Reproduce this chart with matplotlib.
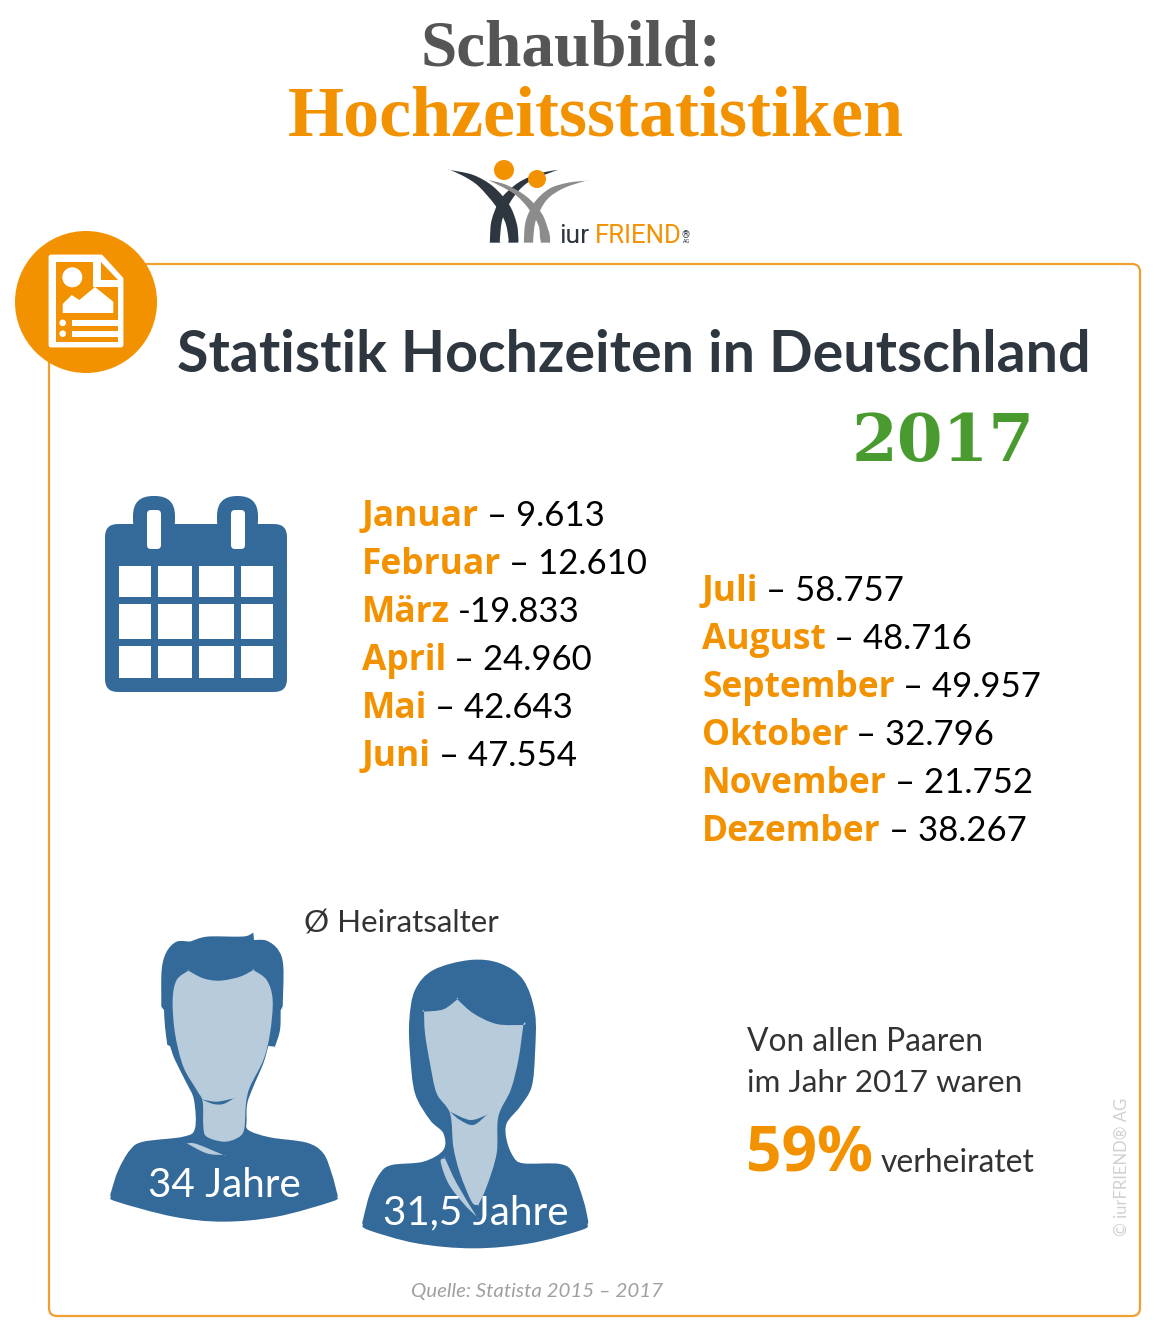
import numpy as np
import matplotlib
matplotlib.use("Agg")
import matplotlib.pyplot as plt
from matplotlib.path import Path
from matplotlib.patches import PathPatch, Circle, FancyBboxPatch, Polygon

# colours
ORANGE = "#F39200"
BLUE = "#336A9A"
LIGHT = "#B7CBDB"
DARK = "#2E3640"
GREY = "#8C8C8C"

# data
months_left = ["Januar", "Februar", "März", "April", "Mai", "Juni"]
values_left = ["– 9.613", "– 12.610", "-19.833", "– 24.960", "– 42.643", "– 47.554"]
months_right = ["Juli", "August", "September", "Oktober", "November", "Dezember"]
values_right = ["– 58.757", "– 48.716", "– 49.957", "– 32.796", "– 21.752", "– 38.267"]
age_labels = ["34 Jahre", "31,5 Jahre"]
share_married = "59%"

fig = plt.figure(figsize=(11.57, 13.33), dpi=100)
ax = fig.add_axes([0, 0, 1, 1])
ax.set_xlim(0, 1157)
ax.set_ylim(1333, 0)
ax.axis("off")
renderer = fig.canvas.get_renderer()


def put(x, y, s, right=None, size=27, color="black", family="Lato", **kw):
    # text on a baseline, size given in points; right = wanted right edge in px
    t = ax.text(x, y, s, fontsize=size, color=color, family=family, va="baseline", **kw)
    if right is not None:
        w = t.get_window_extent(renderer).width
        t.set_fontsize(size * (right - x) / w)
    return t


def blob(points, color, z=2):
    # smooth closed shape through the points (catmull-rom to bezier)
    # a point listed twice gives a sharp corner
    p = np.array(points, dtype=float)
    n = len(p)
    verts = [p[0]]
    codes = [Path.MOVETO]
    for i in range(n):
        p0, p1, p2, p3 = p[i - 1], p[i], p[(i + 1) % n], p[(i + 2) % n]
        verts += [p1 + (p2 - p0) / 6, p2 - (p3 - p1) / 6, p2]
        codes += [Path.CURVE4] * 3
    ax.add_patch(PathPatch(Path(verts, codes), fc=color, ec="none", zorder=z))


def zoomed(points):
    return [(90 + x / 3, 920 + y / 3) for x, y in points]


def logo_pts(points):
    return [(440 + x / 3, 150 + y / 3) for x, y in points]


def rrect(x0, y0, x1, y1, r, color, z=3):
    ax.add_patch(FancyBboxPatch((x0 + r, y0 + r), x1 - x0 - 2 * r, y1 - y0 - 2 * r,
                                boxstyle=f"round,pad={r},rounding_size={r}",
                                fc=color, ec="none", zorder=z))


# headline
put(420, 66, "Schaubild:", right=720, size=55, color="#555555", family="Liberation Serif", fontweight="bold")
put(288, 136, "Hochzeitsstatistiken", right=903, size=55, color=ORANGE, family="Liberation Serif", fontweight="bold")

# logo
blob(logo_pts([(30, 60), (30, 60), (100, 75), (160, 110), (208, 165), (230, 220), (235, 262), (235, 278), (235, 278),
               (205, 278), (205, 278), (205, 262), (195, 215), (165, 165), (115, 108), (70, 78)]), DARK)
blob(logo_pts([(355, 60), (355, 60), (320, 72), (260, 100), (218, 145), (188, 205), (180, 262), (180, 278), (180, 278),
               (150, 278), (150, 278), (150, 262), (155, 210), (180, 150), (225, 105), (270, 80), (320, 65)]), DARK)
blob(logo_pts([(145, 90), (145, 90), (200, 105), (260, 140), (305, 190), (325, 240), (330, 262), (330, 278), (330, 278),
               (303, 278), (303, 278), (300, 262), (295, 225), (265, 175), (220, 130)]), GREY, z=3)
blob(logo_pts([(438, 92), (438, 92), (370, 115), (320, 150), (288, 210), (280, 262), (280, 278), (280, 278),
               (252, 278), (252, 278), (252, 262), (258, 210), (285, 155), (330, 115), (385, 98)]), GREY, z=3)
ax.add_patch(Circle((504, 170), 10, fc=ORANGE, ec="none", zorder=4))
ax.add_patch(Circle((537, 179), 9, fc=ORANGE, ec="none", zorder=4))
put(559, 243, "iur", right=589, size=22, color=DARK, family="Roboto")
put(595, 243, "FRIEND", right=682, size=22, color=ORANGE, family="Roboto")
put(682, 238, "®", right=690, size=6, color=DARK, family="Roboto")
put(683, 243, "AG", right=690, size=4, color=DARK, family="Roboto")

# frame and round badge
ax.add_patch(FancyBboxPatch((57, 272), 1075, 1036, boxstyle="round,pad=8,rounding_size=8",
                            fc="none", ec="#F0A030", lw=1.6, zorder=1))
ax.add_patch(Circle((86, 302), 71, fc=ORANGE, ec="none", zorder=2))
ax.add_patch(Polygon([(51, 257), (101, 257), (121, 279), (121, 345), (51, 345)], fc="white", ec="white",
                     lw=3.5, joinstyle="round", zorder=3))
ax.add_patch(Polygon([(56, 262), (93, 262), (93, 287), (118, 287), (118, 342), (56, 342)], fc=ORANGE, ec="none", zorder=4))
ax.add_patch(Polygon([(101, 262), (118, 280), (101, 280)], fc=ORANGE, ec="none", zorder=4))
ax.add_patch(Circle((72.3, 277.3), 10, fc="white", ec="none", zorder=5))
ax.add_patch(Polygon([(62.7, 313), (62.7, 304), (71.7, 295), (79.3, 300), (95, 287), (113.3, 301.7), (113.3, 313)],
                     fc="white", ec="none", zorder=5))
for y0, y1 in [(320, 325.7), (330.7, 336.7)]:
    ax.add_patch(Polygon([(72.3, y0), (120, y0), (120, y1), (72.3, y1)], fc="white", ec="none", zorder=5))
    ax.add_patch(Circle((62.7, (y0 + y1) / 2), 3.3, fc="white", ec="none", zorder=5))

put(177, 372, "Statistik Hochzeiten in Deutschland", right=1090, size=40, color=DARK, fontweight="bold")
put(852, 461, "2017", right=1035, size=47, color="#4A9B2F", family="DejaVu Serif", fontweight="bold")

# calendar
rrect(105, 524, 287, 692, 13, BLUE)
for x0, x1 in [(133, 175), (217, 258)]:
    rrect(x0, 496, x1, 540, 20, BLUE)
for x0, x1 in [(147, 161), (231, 245)]:
    rrect(x0, 510, x1, 549, 4, "white", z=4)
for y0, y1 in [(566, 597), (604, 639), (646, 678)]:
    for x0, x1 in [(119, 151), (158, 192), (199, 234), (241, 273)]:
        ax.add_patch(Polygon([(x0, y0), (x1, y0), (x1, y1), (x0, y1)], fc="white", ec="none", zorder=4))


def month_rows(x, y0, months, values):
    for i, (m, v) in enumerate(zip(months, values)):
        y = y0 + i * 48
        t = put(x, y, m, size=25.5, color=ORANGE, family="Open Sans", fontweight="bold")
        x1 = t.get_window_extent(renderer).x1
        put(x1 + 8, y, v, size=25, color="black")


month_rows(362, 526, months_left, values_left)
month_rows(702, 601, months_right, values_right)

# people
man_outer = [(300, 65), (300, 65), (350, 50), (440, 50), (470, 48), (490, 38), (490, 38), (492, 60), (492, 60), (530, 62), (565, 90),
             (580, 140), (578, 260), (578, 260), (572, 270), (572, 270), (570, 330), (555, 380), (555, 380), (535, 378), (535, 378),
             (520, 430), (490, 500), (472, 550), (470, 600), (475, 630), (540, 652), (650, 668), (700, 700), (725, 760),
             (740, 815), (742, 830), (725, 845), (560, 890), (400, 905), (250, 890), (80, 845), (62, 830), (65, 810),
             (85, 750), (120, 690), (160, 665), (280, 650), (315, 625), (312, 540), (290, 490), (255, 420),
             (240, 378), (240, 378), (232, 375), (232, 375), (225, 320), (222, 270), (222, 270), (214, 260), (214, 260),
             (215, 150), (230, 95), (260, 65)]
man_face = [(295, 152), (295, 152), (340, 175), (390, 182), (450, 170), (490, 150), (490, 150), (530, 180), (548, 240), (540, 340),
            (520, 420), (480, 500), (468, 550), (462, 630), (440, 655), (400, 665), (350, 650), (340, 620), (338, 545),
            (320, 510), (280, 440), (255, 340), (248, 240), (260, 180)]
man_chin = [(335, 538), (335, 538), (380, 545), (432, 535), (432, 535), (400, 552), (370, 552)]
man_collar = [(290, 670), (290, 670), (320, 672), (400, 705), (400, 705), (350, 700)]
woman_outer = [(1140, 120), (1230, 130), (1300, 180), (1335, 280), (1335, 400), (1325, 500), (1290, 560), (1250, 610),
               (1250, 660), (1270, 710), (1300, 730), (1410, 732), (1450, 760), (1480, 840), (1493, 895), (1493, 912), (1475, 930),
               (1320, 970), (1150, 985), (980, 970), (835, 930), (818, 912), (820, 895), (840, 820), (870, 760), (905, 735), (1000, 725),
               (1060, 690), (1060, 640), (1020, 600), (975, 520), (960, 400), (958, 300), (975, 210), (1030, 150)]
woman_face = [(1002, 275), (1002, 275), (1060, 268), (1102, 238), (1102, 238), (1150, 280), (1220, 312), (1300, 315), (1300, 315),
              (1285, 420), (1262, 510), (1225, 590), (1220, 700), (1190, 800), (1165, 855), (1165, 855), (1145, 845), (1110, 760),
              (1090, 680), (1080, 580), (1040, 520), (1020, 430), (1005, 340)]
woman_chin = [(1080, 575), (1080, 575), (1140, 600), (1190, 585), (1190, 585), (1150, 615), (1110, 600)]
woman_collar = [(1052, 725), (1065, 715), (1065, 715), (1100, 790), (1160, 890), (1160, 890), (1120, 850), (1075, 790)]

blob(zoomed(man_outer), BLUE)
blob(zoomed(man_face), LIGHT, z=3)
blob(zoomed(man_chin), BLUE, z=4)
blob(zoomed(man_collar), LIGHT, z=3)
blob(zoomed(woman_outer), BLUE)
blob(zoomed(woman_face), LIGHT, z=3)
blob(zoomed(woman_chin), BLUE, z=4)
blob(zoomed(woman_collar), LIGHT, z=3)

put(148, 1197, age_labels[0], right=301, size=28, color="white", zorder=6)
put(383, 1224, age_labels[1], right=569, size=28, color="white", zorder=6)
put(304, 932, "Ø Heiratsalter", right=500, size=24, color="#333333")

put(747, 1051, "Von allen Paaren", right=983, size=24, color="#333333")
put(747, 1092, "im Jahr 2017 waren", right=1022, size=24, color="#333333")
put(746, 1172, share_married, right=873, size=44, color=ORANGE, family="Open Sans", fontweight="bold")
put(881, 1172, "verheiratet", right=1035, size=24, color="#333333")

put(411, 1297, "Quelle: Statista 2015 – 2017", right=664, size=15, color="#A0A0A0", style="italic")
ax.text(1122, 1236, "© iurFRIEND® AG", rotation=90, ha="center", va="bottom", fontsize=12, color="#D0D0D0", family="Lato")

fig.savefig("out.png", dpi=100)
